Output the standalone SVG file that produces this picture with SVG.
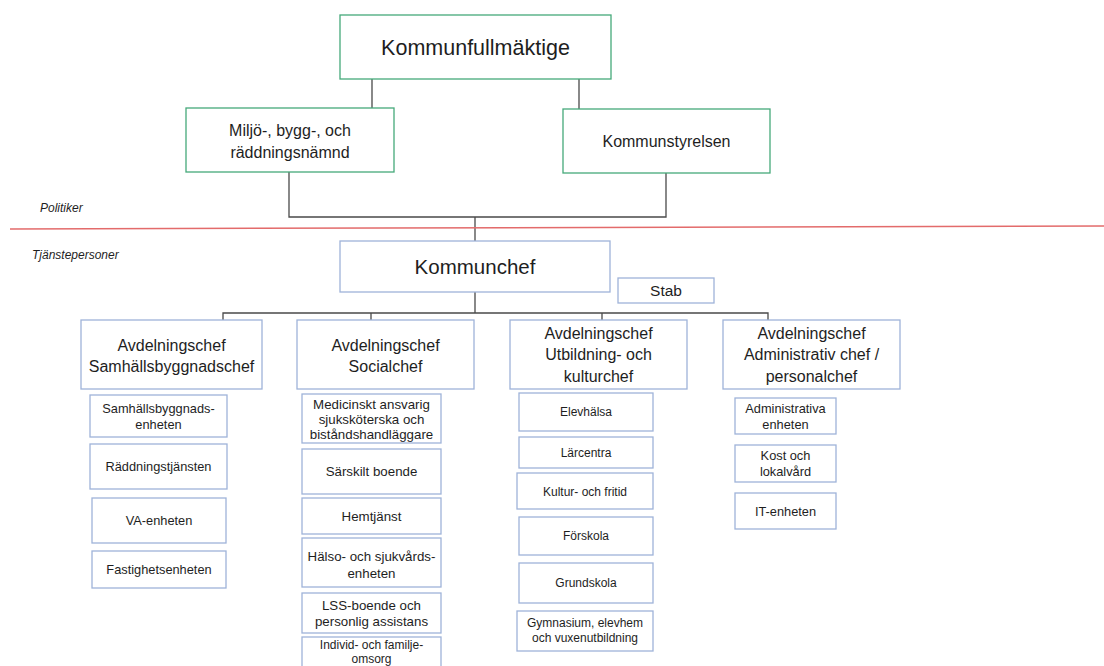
<svg xmlns="http://www.w3.org/2000/svg" width="1104" height="666" viewBox="0 0 1104 666">
<style>
  text { font-family: "Liberation Sans", Arial, sans-serif; fill: #1e1e1e; text-anchor: middle; }
  .pol { fill: #ffffff; stroke: #45a97a; stroke-width: 1.3; }
  .box { fill: #ffffff; stroke: #9fb3d9; stroke-width: 1.3; }
  .con { fill: none; stroke: #4a4a4a; stroke-width: 1.3; }
  .lbl { font-style: italic; text-anchor: start; font-size: 12px; }
  .t21 { font-size: 21.5px; }
  .t16 { font-size: 16px; }
  .s1 { font-size: 12.8px; }
  .s2 { font-size: 13.3px; }
  .s3 { font-size: 12px; }
  .s4 { font-size: 12.8px; }
</style>
<rect width="1104" height="666" fill="#ffffff"/>

<g id="connectors">
  <path class="con" d="M372 79 V108 M579 79 V109"/>
  <path class="con" d="M289 172 V217 H666 V173 M475 217 V241"/>
  <path class="con" d="M475 292 V313 M223 320 V313 H768 V320 M371 313 V320 M602 313 V320"/>
</g>

<line id="divider" x1="10" y1="229" x2="1104" y2="226" stroke="#e36b6b" stroke-width="1.5"/>
<text class="lbl" x="40" y="212">Politiker</text>
<text class="lbl" x="32" y="259">Tjänstepersoner</text>

<g id="kommunfullmaktige">
  <rect class="pol" x="340" y="15" width="271" height="64"/>
  <text class="t21" x="475.5" y="55">Kommunfullmäktige</text>
</g>
<g id="miljo">
  <rect class="pol" x="186" y="108" width="208" height="64"/>
  <text class="t16" x="290" y="135.5">Miljö-, bygg-, och</text>
  <text class="t16" x="290" y="157.5">räddningsnämnd</text>
</g>
<g id="kommunstyrelsen">
  <rect class="pol" x="563" y="109" width="207" height="64"/>
  <text class="t16" x="666.5" y="146.5">Kommunstyrelsen</text>
</g>

<g id="kommunchef">
  <rect class="box" x="340" y="241" width="270" height="51"/>
  <text x="475" y="274" style="font-size:20.5px">Kommunchef</text>
</g>
<g id="stab">
  <rect class="box" x="618" y="278" width="96" height="25"/>
  <text x="666" y="296" style="font-size:15.5px">Stab</text>
</g>

<g id="avd-samhall">
  <rect class="box" x="81" y="320" width="181" height="69"/>
  <text class="t16" x="171.5" y="350.5">Avdelningschef</text>
  <text class="t16" x="171.5" y="371.5">Samhällsbyggnadschef</text>
</g>
<g id="avd-social">
  <rect class="box" x="297" y="320" width="177" height="69"/>
  <text class="t16" x="385.5" y="350.5">Avdelningschef</text>
  <text class="t16" x="385.5" y="371.5">Socialchef</text>
</g>
<g id="avd-utbildning">
  <rect class="box" x="510" y="320" width="177" height="69"/>
  <text class="t16" x="598.5" y="338.5">Avdelningschef</text>
  <text class="t16" x="598.5" y="360">Utbildning- och</text>
  <text class="t16" x="598.5" y="381.5">kulturchef</text>
</g>
<g id="avd-admin">
  <rect class="box" x="723" y="320" width="177" height="69"/>
  <text class="t16" x="811.5" y="338.5">Avdelningschef</text>
  <text class="t16" x="811.5" y="360">Administrativ chef /</text>
  <text class="t16" x="811.5" y="381.5">personalchef</text>
</g>

<!-- Column 1 -->
<g id="samhallsbyggnadsenheten">
  <rect class="box" x="90" y="395" width="137" height="42"/>
  <text class="s1" x="158.5" y="412.5">Samhällsbyggnads-</text>
  <text class="s1" x="158.5" y="428.5">enheten</text>
</g>
<g id="raddningstjansten">
  <rect class="box" x="90" y="444" width="137" height="45"/>
  <text class="s1" x="158.5" y="471">Räddningstjänsten</text>
</g>
<g id="va-enheten">
  <rect class="box" x="92" y="498" width="134" height="45"/>
  <text class="s1" x="159" y="525">VA-enheten</text>
</g>
<g id="fastighetsenheten">
  <rect class="box" x="92" y="551" width="134" height="37"/>
  <text class="s1" x="159" y="574">Fastighetsenheten</text>
</g>

<!-- Column 2 -->
<g id="medicinskt">
  <rect class="box" x="302" y="394" width="139" height="49"/>
  <text class="s2" x="371.5" y="409">Medicinskt ansvarig</text>
  <text class="s2" x="371.5" y="424">sjuksköterska och</text>
  <text class="s2" x="371.5" y="439">biståndshandläggare</text>
</g>
<g id="sarskilt-boende">
  <rect class="box" x="302" y="449" width="139" height="45"/>
  <text class="s2" x="371.5" y="476">Särskilt boende</text>
</g>
<g id="hemtjanst">
  <rect class="box" x="302" y="498" width="139" height="36"/>
  <text class="s2" x="371.5" y="520.5">Hemtjänst</text>
</g>
<g id="halso">
  <rect class="box" x="302" y="538" width="139" height="49"/>
  <text class="s2" x="371.5" y="560.5">Hälso- och sjukvårds-</text>
  <text class="s2" x="371.5" y="577.5">enheten</text>
</g>
<g id="lss">
  <rect class="box" x="302" y="593" width="139" height="40"/>
  <text class="s2" x="371.5" y="609.5">LSS-boende och</text>
  <text class="s2" x="371.5" y="625.5">personlig assistans</text>
</g>
<g id="individ">
  <rect class="box" x="302" y="637" width="139" height="40"/>
  <text x="371.5" y="648.5" style="font-size:12px">Individ- och familje-</text>
  <text x="371.5" y="662.5" style="font-size:12px">omsorg</text>
</g>

<!-- Column 3 -->
<g id="elevhalsa">
  <rect class="box" x="519" y="393" width="134" height="38"/>
  <text class="s3" x="586" y="416">Elevhälsa</text>
</g>
<g id="larcentra">
  <rect class="box" x="519" y="437" width="134" height="31"/>
  <text class="s3" x="586" y="457">Lärcentra</text>
</g>
<g id="kultur">
  <rect class="box" x="517" y="473" width="136" height="36"/>
  <text class="s3" x="585" y="495.5">Kultur- och fritid</text>
</g>
<g id="forskola">
  <rect class="box" x="519" y="517" width="134" height="38"/>
  <text class="s3" x="586" y="540">Förskola</text>
</g>
<g id="grundskola">
  <rect class="box" x="519" y="563" width="134" height="40"/>
  <text class="s3" x="586" y="587">Grundskola</text>
</g>
<g id="gymnasium">
  <rect class="box" x="517" y="611" width="136" height="40"/>
  <text class="s3" x="585" y="627">Gymnasium, elevhem</text>
  <text class="s3" x="585" y="642">och vuxenutbildning</text>
</g>

<!-- Column 4 -->
<g id="administrativa">
  <rect class="box" x="735" y="398" width="101" height="36"/>
  <text class="s4" x="785.5" y="412.5">Administrativa</text>
  <text class="s4" x="785.5" y="428.5">enheten</text>
</g>
<g id="kost">
  <rect class="box" x="735" y="445" width="101" height="37"/>
  <text class="s4" x="785.5" y="459.5">Kost och</text>
  <text class="s4" x="785.5" y="475.5">lokalvård</text>
</g>
<g id="it-enheten">
  <rect class="box" x="735" y="493" width="101" height="36"/>
  <text class="s4" x="785.5" y="515.5">IT-enheten</text>
</g>
</svg>
